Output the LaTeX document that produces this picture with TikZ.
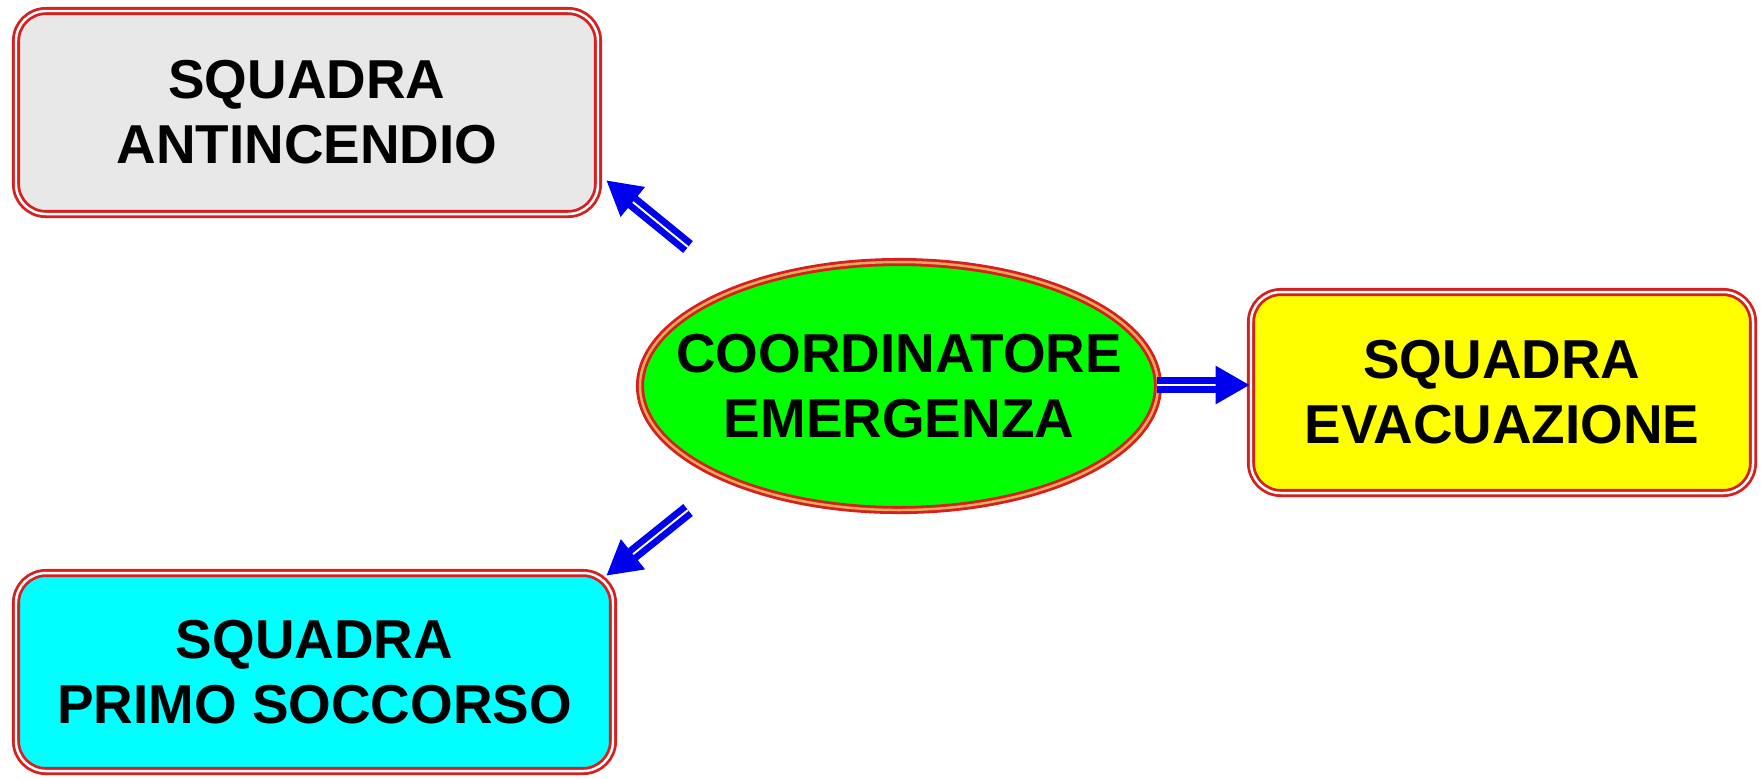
\documentclass[tikz,border=0pt]{standalone}
\usepackage{fontspec}
\setmainfont{Liberation Sans}
\usepackage{tikz}
\usetikzlibrary{arrows.meta,shapes.geometric}
\definecolor{boxgray}{RGB}{232,232,232}
\definecolor{boxcyan}{RGB}{0,255,255}
\definecolor{boxyellow}{RGB}{255,255,0}
\definecolor{boxgreen}{RGB}{0,255,0}
\definecolor{rimred}{RGB}{214,32,32}
\definecolor{rimtan}{RGB}{226,170,90}
\definecolor{arrowblue}{RGB}{0,0,240}

\begin{document}
\begin{tikzpicture}[
  font=\fontsize{15.6pt}{18.5pt}\selectfont\bfseries, >={Triangle[length=9.7pt,width=10.5pt]},
  team/.style={draw=rimred,double=white,line width=0.8pt,double distance=0.7pt,rounded corners=8.5pt,align=center},
  chiefshape/.style={ellipse,draw=rimred,double=rimtan,line width=0.8pt,double distance=0.7pt,fill=boxgreen,inner sep=0pt},
  link/.style={->,draw=arrowblue,double=white,line width=1.9pt,double distance=0.55pt}]
  \useasboundingbox (0,0) rectangle (17.61,-7.78);
  \node[team,fill=boxgray,minimum width=5.82cm,minimum height=2.03cm] (anti) at (3.07,-1.125)
    {SQUADRA\\ANTINCENDIO};
  \node[team,fill=boxcyan,minimum width=5.97cm,minimum height=1.98cm] (primo) at (3.145,-6.72)
    {SQUADRA\\PRIMO SOCCORSO};
  \node[team,fill=boxyellow,minimum width=5.02cm,minimum height=2.01cm] (evac) at (15.02,-3.925)
    {SQUADRA\\EVACUAZIONE};
  \node[chiefshape,minimum width=5.18cm,minimum height=2.48cm] (chief) at (8.99,-3.86) {};
  \node[align=center] (chieftext) at (chief) {COORDINATORE\\EMERGENZA};
  % arrows out of the coordinator
  \coordinate (tailanti) at (6.88,-2.47);
  \coordinate (tailprimo) at (6.88,-5.10);
  \coordinate (tailevac) at (11.57,-3.85);
  \draw[link] (tailanti) -- ([shift={(0.07,0.35)}]anti.south east);
  \draw[link] (tailprimo) -- ([shift={(-0.08,-0.04)}]primo.north east);
  \draw[link] (tailevac) -- (tailevac -| evac.west);
\end{tikzpicture}
\end{document}
